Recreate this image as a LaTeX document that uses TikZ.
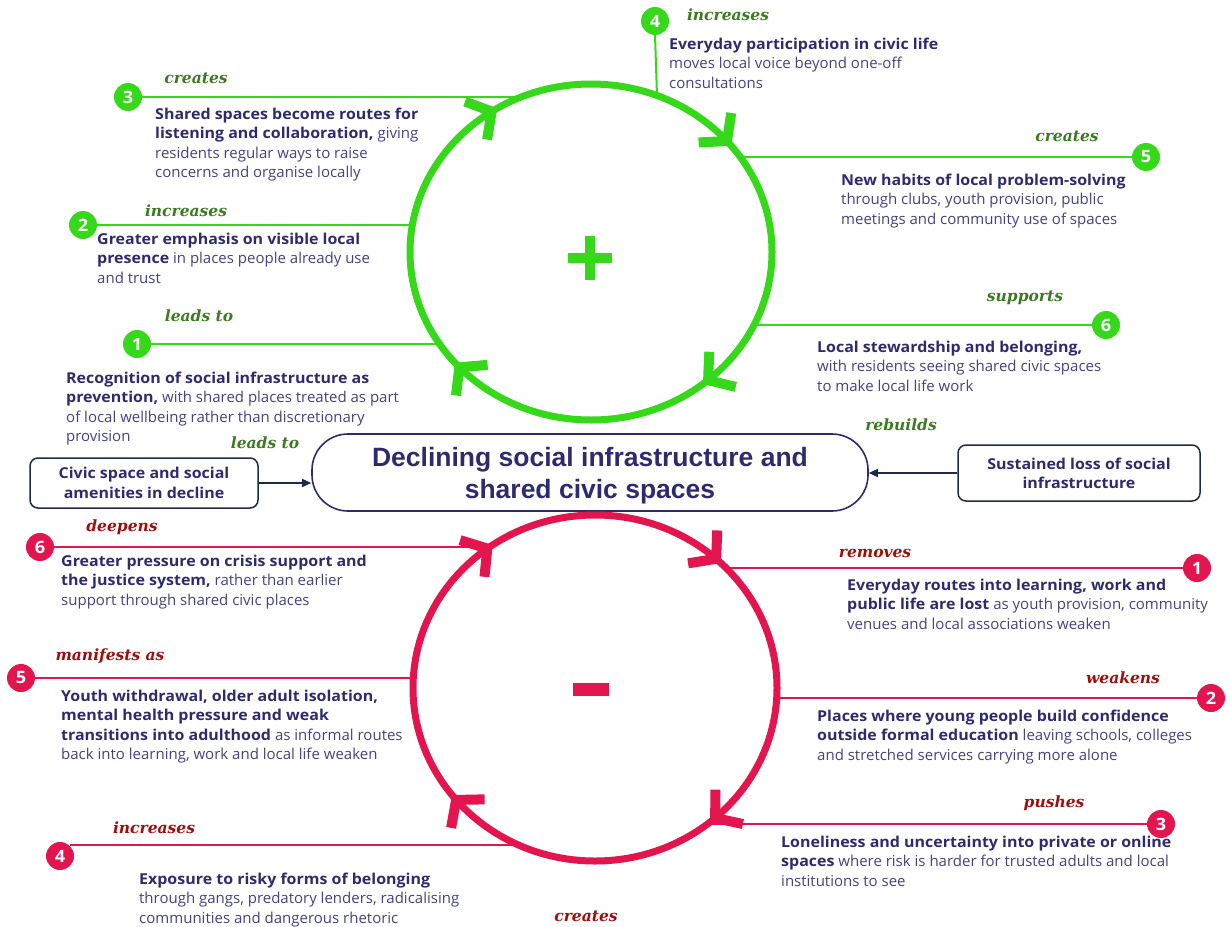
\documentclass[tikz,border=0pt]{standalone}
\usepackage{fontspec}
\setmainfont{Open Sans}[BoldFeatures={FakeStretch=1.065}]
\newfontfamily\linkfont{DejaVu Serif}
\newfontfamily\headfont{Liberation Sans}
\usetikzlibrary{arrows.meta}

\definecolor{gmain}{HTML}{35D919}
\definecolor{glab}{HTML}{3D7A22}
\definecolor{rmain}{HTML}{E3154E}
\definecolor{rlab}{HTML}{A00D0D}
\definecolor{navy}{HTML}{2E2A6E}
\definecolor{bodycol}{HTML}{45427E}
\definecolor{boxline}{HTML}{1D2B45}

\newcommand\hl[1]{{\bfseries\color{navy}#1}}
% chevron arrowheads placed on an ellipse: colour, centre x, centre y, radii a b, list of angles
\newcommand\chevrons[6]{%
  \foreach \t in {#6} {
    \draw[#1, line width=10pt, line join=miter, miter limit=10,
      shift={({#2+#4*cos(\t)},{#3+#5*sin(\t)})}, rotate={atan2(-#5*cos(\t),#4*sin(\t))}]
      (-22pt,22pt) -- (-4pt,0pt) -- (-22pt,-22pt);
  }}

\tikzset{
  badge/.style={circle, fill=#1, text=white, inner sep=0pt, minimum size=28pt,
    font=\fontsize{17}{17}\selectfont\bfseries},
  gline/.style={draw=gmain, line width=2pt},
  rline/.style={draw=rmain, line width=1.8pt},
  glink/.style={text=glab, inner sep=0pt, font=\linkfont\fontsize{15.5}{16}\selectfont\bfseries\itshape},
  rlink/.style={text=rlab, inner sep=0pt, font=\linkfont\fontsize{15.5}{16}\selectfont\bfseries\itshape},
  blurb/.style={anchor=north west, inner sep=0pt, align=left, text=bodycol,
    font=\fontsize{15}{19.3}\selectfont},
  sidebox/.style={draw=boxline, line width=1.5pt, rounded corners=8pt, align=center,
    text=navy, inner sep=0pt, font=\fontsize{15}{19.3}\selectfont\bfseries},
  feed/.style={draw=boxline, line width=1.5pt, -{Triangle[length=9pt,width=8pt]}},
  ring/.style={draw=#1, line width=7pt},
}

\begin{document}
\begin{tikzpicture}[x=1pt,y=1pt]
\useasboundingbox (0,0) rectangle (1230,-926);

% ---------- reinforcing loop (green) ----------
\draw[ring=gmain] (591,-252) ellipse [x radius=181pt, y radius=168pt];
\chevrons{gmain}{591}{-252}{181}{168}{-51,-138,122,40}
% plus sign
\fill[gmain] (568,-253) rectangle (612,-263);
\fill[gmain] (585,-236) rectangle (595,-280);

\coordinate (g1e) at (438,-344);
\coordinate (g2e) at (413,-225);
\coordinate (g3e) at (525,-97);
\coordinate (g4e) at (657,-96);
\coordinate (g5e) at (740,-157);
\coordinate (g6e) at (754,-325);

\node[badge=gmain] (g1) at (137,-344) {1};
\node[badge=gmain] (g2) at (83,-225) {2};
\node[badge=gmain] (g3) at (128,-97) {3};
\node[badge=gmain] (g4) at (655,-21) {4};
\node[badge=gmain] (g5) at (1146,-157) {5};
\node[badge=gmain] (g6) at (1106,-325) {6};

\draw[gline] (g1) -- (g1e);
\draw[gline] (g2) -- (g2e);
\draw[gline] (g3) -- (g3e);
\draw[gline] (g4.south) -- (g4e);
\draw[gline] (g5) -- (g5e);
\draw[gline] (g6) -- (g6e);

\node[glink] (g1l) at (199,-316) {leads to};
\node[glink] (g2l) at (186,-211) {increases};
\node[glink] (g3l) at (196,-78) {creates};
\node[glink] (g4l) at (728,-15) {increases};
\node[glink] (g5l) at (1067,-136) {creates};
\node[glink] (g6l) at (1025,-298) {supports};

\node[blurb] (g3t) at (155,-108) {\hl{Shared spaces become routes for}\\\hl{listening and collaboration,} giving\\residents regular ways to raise\\concerns and organise locally};
\node[blurb] (g4t) at (669,-38) {\hl{Everyday participation in civic life}\\moves local voice beyond one-off\\consultations};
\node[blurb] (g5t) at (841,-174) {\hl{New habits of local problem-solving}\\through clubs, youth provision, public\\meetings and community use of spaces};
\node[blurb] (g2t) at (97,-233) {\hl{Greater emphasis on visible local}\\\hl{presence} in places people already use\\and trust};
\node[blurb] (g1t) at (66,-372) {\hl{Recognition of social infrastructure as}\\\hl{prevention,} with shared places treated as part\\of local wellbeing rather than discretionary\\provision};
\node[blurb] (g6t) at (817,-341) {\hl{Local stewardship and belonging,}\\with residents seeing shared civic spaces\\to make local life work};

% ---------- central problem ----------
\node[draw=navy, line width=1.6pt, rounded corners=36pt, minimum width=556pt, minimum height=77pt]
  (core) at (590,-472.5) {};
\node[align=center, text=navy, inner sep=0pt, font=\headfont\fontsize{26.5}{32}\selectfont\bfseries]
  (coretext) at (590,-475.5) {Declining social infrastructure and\\shared civic spaces};
\node[sidebox, minimum width=228pt, minimum height=50pt] (lbox) at (144,-483) {Civic space and social\\amenities in decline};
\node[sidebox, minimum width=242pt, minimum height=56pt] (rbox) at (1079,-473) {Sustained loss of social\\infrastructure};
\draw[feed] (lbox.east) -- (lbox.east -| core.west);
\draw[feed] (rbox.west) -- (rbox.west -| core.east);
\node[glink] (lboxl) at (265,-443) {leads to};
\node[glink] (rboxl) at (901,-425) {rebuilds};

% ---------- balancing loop (red) ----------
\draw[ring=rmain] (595,-688) ellipse [x radius=182pt, y radius=173pt];
\chevrons{rmain}{595}{-688}{182}{173}{-50,-141,125,47}
% minus sign
\fill[rmain] (573,-683) rectangle (609,-696);

\coordinate (r1e) at (726,-568);
\coordinate (r2e) at (777,-698);
\coordinate (r3e) at (707,-824);
\coordinate (r4e) at (519,-845);
\coordinate (r5e) at (413,-678);
\coordinate (r6e) at (489,-547);

\node[badge=rmain] (r1) at (1197,-568) {1};
\node[badge=rmain] (r2) at (1211,-698) {2};
\node[badge=rmain] (r3) at (1161,-824) {3};
\node[badge=rmain] (r4) at (60,-856) {4};
\node[badge=rmain] (r5) at (21,-678) {5};
\node[badge=rmain] (r6) at (40,-547) {6};

\draw[rline] (r1) -- (r1e);
\draw[rline] (r2) -- (r2e);
\draw[rline] (r3) -- (r3e);
\draw[rline] (r4e -| r4.north east) -- (r4e);
\draw[rline] (r5) -- (r5e);
\draw[rline] (r6) -- (r6e);

\node[rlink] (r1l) at (875,-553) {removes};
\node[rlink] (r2l) at (1123,-678) {weakens};
\node[rlink] (r3l) at (1054,-803) {pushes};
\node[rlink] (r4l) at (154,-828) {increases};
\node[rlink] (r5l) at (110,-656) {manifests as};
\node[rlink] (r6l) at (122,-527) {deepens};
\node[rlink] (rbl) at (586,-916) {creates};

\node[blurb] (r6t) at (61,-555) {\hl{Greater pressure on crisis support and}\\\hl{the justice system,} rather than earlier\\support through shared civic places};
\node[blurb] (r1t) at (847,-579) {\hl{Everyday routes into learning, work and}\\\hl{public life are lost} as youth provision, community\\venues and local associations weaken};
\node[blurb] (r5t) at (61,-690) {\hl{Youth withdrawal, older adult isolation,}\\\hl{mental health pressure and weak}\\\hl{transitions into adulthood} as informal routes\\back into learning, work and local life weaken};
\node[blurb] (r2t) at (817,-710) {\hl{Places where young people build confidence}\\\hl{outside formal education} leaving schools, colleges\\and stretched services carrying more alone};
\node[blurb] (r3t) at (781,-836) {\hl{Loneliness and uncertainty into private or online}\\\hl{spaces} where risk is harder for trusted adults and local\\institutions to see};
\node[blurb] (r4t) at (139,-873) {\hl{Exposure to risky forms of belonging}\\through gangs, predatory lenders, radicalising\\communities and dangerous rhetoric};

\end{tikzpicture}
\end{document}
